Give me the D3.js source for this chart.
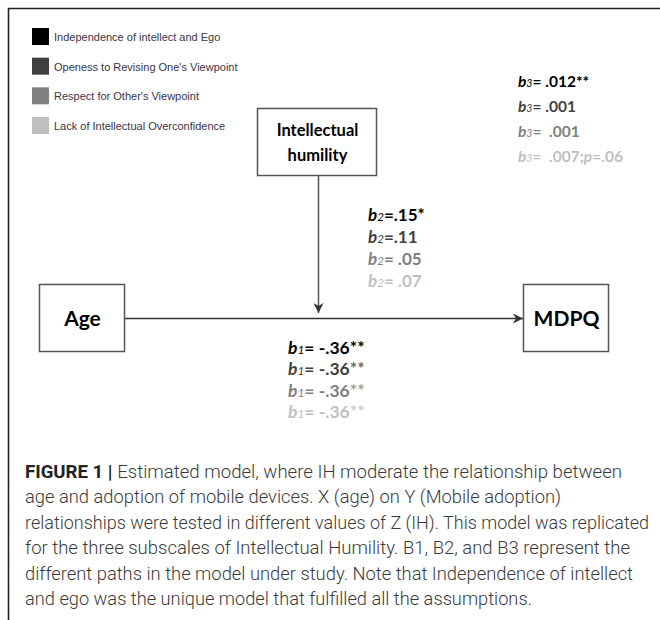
<!DOCTYPE html>
<html>
<head>
<meta charset="utf-8">
<script src="https://cdn.jsdelivr.net/npm/d3@7/dist/d3.min.js"></script>
<style>
  html, body { margin: 0; padding: 0; background: #fff; }
  svg { display: block; }
  text { white-space: pre; }
</style>
</head>
<body>
<script>
// ---------- data ----------
const subscales = [
  "Independence of intellect and Ego",
  "Openess to Revising One's Viewpoint",
  "Respect for Other's Viewpoint",
  "Lack of Intellectual Overconfidence"
];
const subscaleColors = ["#000000", "#3f3f3f", "#7f7f7f", "#bfbfbf"];
const b1Values = [" -.36**", " -.36**", " -.36**", " -.36**"];
const b2Values = [".15*", ".11", " .05", " .07"];
const b3Values = [" .012**", " .001", "  .001", "  .007;p=.06"];
const nodeLabels = { x: ["Age"], y: ["MDPQ"], z: ["Intellectual", "humility"] };
const captionLead = "FIGURE 1 | ";
const captionLines = [
  "Estimated model, where IH moderate the relationship between",
  "age and adoption of mobile devices. X (age) on Y (Mobile adoption)",
  "relationships were tested in different values of Z (IH). This model was replicated",
  "for the three subscales of Intellectual Humility. B1, B2, and B3 represent the",
  "different paths in the model under study. Note that Independence of intellect",
  "and ego was the unique model that fulfilled all the assumptions."
];

// ---------- layout ----------
const W = 660, H = 620;
const svg = d3.select("body").append("svg").attr("width", W).attr("height", H);

const defs = svg.append("defs");
defs.append("marker")
  .attr("id", "arrow").attr("viewBox", "0 0 10 10")
  .attr("refX", 10).attr("refY", 5)
  .attr("markerWidth", 10).attr("markerHeight", 10)
  .attr("markerUnits", "userSpaceOnUse")
  .attr("orient", "auto")
  .append("path").attr("d", "M0,0 L10,5 L0,10 L3,5 Z").attr("fill", "#333");

// outer frame (top + left)
svg.append("path")
  .attr("d", "M8.5,620 L8.5,8.5 L660,8.5")
  .attr("fill", "none").attr("stroke", "#222").attr("stroke-width", 1.6);

// legend
const legendY = d3.scalePoint().domain(d3.range(subscales.length)).range([37, 126]);
const leg = svg.append("g");
leg.selectAll("rect").data(subscales).join("rect")
  .attr("x", 32).attr("y", (d, i) => legendY(i) - 9)
  .attr("width", 17).attr("height", 17)
  .attr("fill", (d, i) => subscaleColors[i]);
leg.selectAll("text").data(subscales).join("text")
  .attr("x", 54).attr("y", (d, i) => legendY(i) + 4)
  .attr("font-family", "Liberation Sans, Arial, sans-serif")
  .attr("font-size", 11).attr("fill", "#3a3548")
  .text(d => d);

// boxes
const boxes = [
  { key: "x", x: 39, y: 284, w: 85, h: 67, size: 21 },
  { key: "y", x: 523, y: 284, w: 85, h: 67, size: 21 },
  { key: "z", x: 257, y: 108, w: 119, h: 67, size: 16.5 }
];
const bg = svg.append("g");
boxes.forEach(b => {
  bg.append("rect").attr("x", b.x + 0.5).attr("y", b.y + 0.5)
    .attr("width", b.w).attr("height", b.h)
    .attr("fill", "#fff").attr("stroke", "#555").attr("stroke-width", 1.5);
  const lines = nodeLabels[b.key];
  const lineH = 25;
  const cy = b.y + b.h / 2 + 1;
  lines.forEach((t, i) => {
    bg.append("text")
      .attr("x", b.x + b.w / 2 + 1)
      .attr("y", cy + (i - (lines.length - 1) / 2) * lineH)
      .attr("dy", "0.35em")
      .attr("text-anchor", "middle")
      .attr("font-family", "Lato, 'Open Sans', sans-serif")
      .attr("font-weight", 700).attr("font-size", b.size)
      .attr("fill", "#000")
      .text(t);
  });
});

// paths
const ax = boxes[0], ay = boxes[1], az = boxes[2];
const midY = 318.5;
svg.append("line")
  .attr("x1", ax.x + ax.w + 1).attr("y1", midY)
  .attr("x2", ay.x).attr("y2", midY)
  .attr("stroke", "#333").attr("stroke-width", 1.3)
  .attr("marker-end", "url(#arrow)");
svg.append("line")
  .attr("x1", 318.5).attr("y1", az.y + az.h + 1)
  .attr("x2", 318.5).attr("y2", 313)
  .attr("stroke", "#555").attr("stroke-width", 1.5)
  .attr("marker-end", "url(#arrow)");

// coefficient stacks
function stack(values, sub, x, y0, y1, size) {
  const ys = d3.scalePoint().domain(d3.range(values.length)).range([y0, y1]);
  const g = svg.append("g");
  values.forEach((v, i) => {
    const t = g.append("text")
      .attr("x", x).attr("y", ys(i))
      .attr("font-family", "Lato, 'Open Sans', sans-serif")
      .attr("font-weight", 700).attr("font-size", size)
      .attr("fill", subscaleColors[i]);
    t.append("tspan").attr("font-style", "italic").text("b");
    t.append("tspan").attr("font-style", "italic").attr("font-weight", 400)
      .attr("font-size", size * 0.68).text(sub);
    const parts = v.split(";p=");
    t.append("tspan").text("=" + parts[0].replace(/\*+$/, ""));
    const stars = (parts[0].match(/\*+$/) || [""])[0];
    if (stars) t.append("tspan").attr("fill-opacity", i === 0 ? 1 : 0.8).text(stars);
    if (parts.length > 1) {
      t.append("tspan").text(";");
      t.append("tspan").attr("font-style", "italic").text("p");
      t.append("tspan").text("=" + parts[1]);
    }
  });
}
stack(b3Values, "3", 518, 87, 162, 15.5);
stack(b2Values, "2", 368, 221, 287, 17);
stack(b1Values, "1", 288, 354, 418, 17.5);

// caption
const capW = [597, 536, 624, 605, 608, 507];
const capY = d3.scalePoint().domain(d3.range(captionLines.length)).range([478, 605]);
const cap = svg.append("g")
  .attr("font-family", "Roboto, 'Liberation Sans', sans-serif")
  .attr("font-size", 18).attr("fill", "#3a3a3a");
captionLines.forEach((line, i) => {
  const t = cap.append("text").attr("x", 25).attr("y", capY(i))
    .attr("font-weight", 300)
    .attr("textLength", capW[i]).attr("lengthAdjust", "spacingAndGlyphs");
  if (i === 0) t.append("tspan").attr("font-weight", 700).attr("fill", "#222").text(captionLead);
  t.append("tspan").text(line);
});
</script>
</body>
</html>
